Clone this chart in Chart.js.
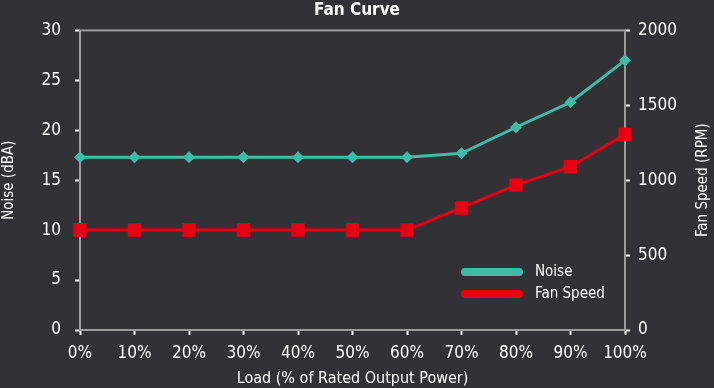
<!DOCTYPE html>
<html>
<head>
<meta charset="utf-8">
<script src="https://cdn.jsdelivr.net/npm/chart.js@4/dist/chart.umd.min.js"></script>
<style>
html,body{margin:0;padding:0;background:#323136;}
#wrap{width:714px;height:388px;position:relative;}
</style>
</head>
<body>
<div id="wrap"><canvas id="c" width="714" height="388"></canvas></div>
<script>
// data
const loads = ['0%','10%','20%','30%','40%','50%','60%','70%','80%','90%','100%'];
const noiseDBA = [17.3,17.3,17.3,17.3,17.3,17.3,17.3,17.7,20.3,22.8,27.0];
const fanRPM = [667,667,667,667,667,667,667,815,967,1090,1305];
const noiseTicks = [0,5,10,15,20,25,30];
const rpmTicks = [0,500,1000,1500,2000];

const FONT = '"DejaVu Sans Condensed","Liberation Sans Narrow","Roboto",sans-serif';
const TEAL = '#3fbba6', RED = '#e60012', BORDER = '#9b9b9b';

// frame around the plot area, legend inside it, right axis title
const frame = {
  id:'frame',
  beforeDatasetsDraw(ch){
    const a=ch.chartArea, x=ch.ctx;
    x.save(); x.strokeStyle=BORDER; x.lineWidth=2;
    x.strokeRect(a.left,a.top,a.right-a.left,a.bottom-a.top); x.restore();
  },
  afterDraw(ch){
    const a=ch.chartArea, x=ch.ctx;
    x.save(); x.lineCap='round'; x.lineWidth=8;
    x.font='15px '+FONT; x.fillStyle='#fff'; x.textBaseline='middle';
    ch.data.datasets.forEach((d,i)=>{
      const y=a.bottom-58+i*22, lx=a.right-160;
      x.strokeStyle=d.borderColor;
      x.beginPath(); x.moveTo(lx,y); x.lineTo(lx+54,y); x.stroke();
      x.fillText(d.label,lx+70,y);
    });
    x.translate(ch.width-11,(a.top+a.bottom)/2); x.rotate(-Math.PI/2);
    x.textAlign='center'; x.fillText('Fan Speed (RPM)',0,0);
    x.restore();
  }
};

function yAxis(pos,w,title,ticks,max,pad){
  return {
    position:pos, min:0, max:max,
    afterFit(s){ s.width=w; },
    afterBuildTicks(s){ s.ticks=ticks.map(v=>({value:v})); },
    grid:{drawOnChartArea:false, drawTicks:true, tickLength:5, tickColor:'#fff', tickWidth:2},
    border:{display:false},
    ticks:{color:'#fff', font:{family:FONT,size:17}, padding:pad, callback:v=>String(v)},
    title:{display:!!title, text:title, color:'#fff', font:{family:FONT,size:15}, padding:{top:0,bottom:2}}
  };
}

new Chart(document.getElementById('c'),{
  type:'line',
  data:{labels:loads,datasets:[
    {label:'Noise',data:noiseDBA,yAxisID:'y',borderColor:TEAL,backgroundColor:TEAL,borderWidth:3,
     pointStyle:'rectRot',pointRadius:6,pointBorderWidth:0,tension:0},
    {label:'Fan Speed',data:fanRPM,yAxisID:'y1',borderColor:RED,backgroundColor:RED,borderWidth:3,
     pointStyle:'rect',pointRadius:9.5,pointBorderWidth:0,tension:0}
  ]},
  options:{
    responsive:false, animation:false,
    layout:{padding:{left:0,right:0,top:0,bottom:0}},
    plugins:{
      legend:{display:false}, tooltip:{enabled:false},
      title:{display:true,text:'Fan Curve',color:'#fff',font:{family:FONT,size:17,weight:'bold'},padding:{top:0,bottom:10}}
    },
    scales:{
      x:{
        offset:false,
        afterFit(s){ s.height=58; },
        grid:{drawOnChartArea:false, drawTicks:true, tickLength:5, tickColor:'#fff', tickWidth:2},
        border:{display:false},
        ticks:{color:'#fff', font:{family:FONT,size:17}, padding:8, maxRotation:0, autoSkip:false},
        title:{display:true,text:'Load (% of Rated Output Power)',color:'#fff',font:{family:FONT,size:16},padding:{top:0,bottom:0}}
      },
      y:yAxis('left',80,'Noise (dBA)',noiseTicks,30,14),
      y1:yAxis('right',89,'',rpmTicks,2000,8)
    }
  },
  plugins:[frame]
});
</script>
</body>
</html>
